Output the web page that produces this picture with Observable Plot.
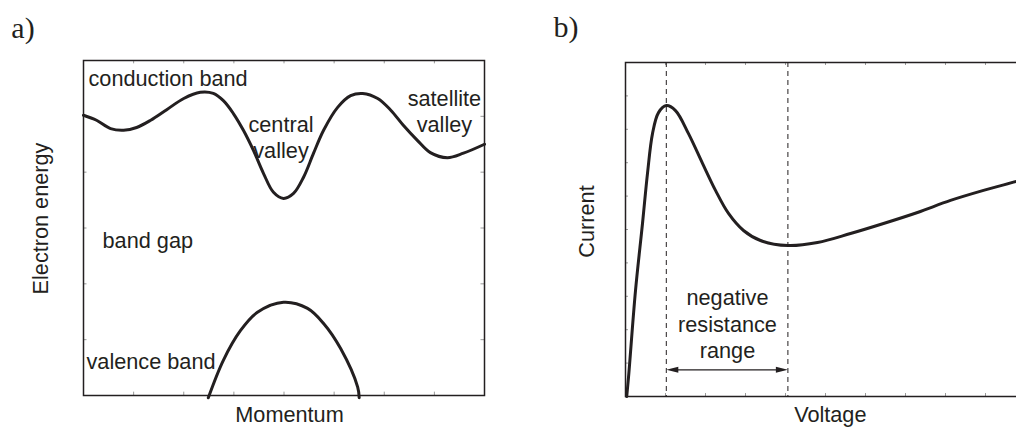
<!DOCTYPE html>
<html>
<head>
<meta charset="utf-8">
<script src="https://cdn.jsdelivr.net/npm/d3@7"></script>
<script src="https://cdn.jsdelivr.net/npm/@observablehq/plot@0.6"></script>
<style>
  html, body { margin: 0; padding: 0; overflow: hidden; background: #fff; }
  #page { position: relative; width: 1016px; height: 427px; overflow: hidden; }
  #panel-a { position: absolute; left: 0; top: 0; width: 500px; }
  #panel-b { position: absolute; left: 500px; top: 0; width: 530px; }
  svg { display: block; max-width: none !important; }
</style>
</head>
<body>
<div id="page"><div id="panel-a"></div><div id="panel-b"></div></div>
<script>
// ---- Panel a: band structure, [momentum, electron energy] ----
const conductionBand = [
  [0, 5.02], [0.26, 4.93], [0.54, 4.78], [0.80, 4.75], [1.06, 4.80], [1.34, 4.93],
  [1.66, 5.12], [2.00, 5.32], [2.33, 5.43], [2.59, 5.41], [2.79, 5.28], [2.99, 5.05],
  [3.19, 4.75], [3.39, 4.39], [3.59, 3.98], [3.79, 3.64], [3.99, 3.53], [4.19, 3.62],
  [4.39, 3.91], [4.59, 4.34], [4.79, 4.75], [5.07, 5.16], [5.33, 5.37], [5.57, 5.41],
  [5.87, 5.32], [6.13, 5.11], [6.38, 4.84], [6.66, 4.57], [6.92, 4.35], [7.26, 4.26],
  [7.58, 4.34], [8.0, 4.50]
];
const valenceBand = [
  [2.49, -0.04], [2.79, 0.63], [3.13, 1.16], [3.47, 1.49], [3.99, 1.67], [4.47, 1.56],
  [4.79, 1.29], [5.13, 0.84], [5.47, 0.15], [5.50, -0.04]
];
const momentumTicks = [1, 2, 3, 4, 5, 6, 7];
const energyTicks = [1, 2, 3, 4, 5];

// ---- Panel b: current-voltage characteristic, [voltage, current] ----
const ivCurve = [
  [0.03, 0], [0.075, 0.57], [0.25, 3.17], [0.425, 5.18], [0.55, 6.68], [0.675, 7.87],
  [0.825, 8.50], [1.02, 8.71], [1.25, 8.56], [1.575, 7.87], [1.925, 6.98], [2.25, 6.17],
  [2.575, 5.48], [2.95, 4.97], [3.375, 4.67], [4.06, 4.52], [4.8, 4.61], [5.625, 4.88],
  [6.45, 5.18], [7.3, 5.51], [8.125, 5.87], [8.95, 6.17], [9.775, 6.44], [10, 6.52]
];
const resistanceBounds = [1.02, 4.06];   // peak and valley voltages
const voltageTicks = [1, 2, 3, 4, 5, 6, 7, 8, 9];
const currentTicks = [1, 2, 3, 4, 5, 6, 7, 8, 9];

const ink = "#231f20";
const tickGray = "#9a9a9a";
const sans = "'Liberation Sans', Arial, sans-serif";
const serif = "'Liberation Serif', 'Times New Roman', serif";
const fs = 21.7;

// filled arrowhead with its tip at the origin, pointing right
const arrowHead = {
  draw(context) {
    context.moveTo(0, 0);
    context.lineTo(-12, -3);
    context.lineTo(-12, 3);
    context.closePath();
  }
};

const label = (txt, opts) => Plot.text([txt], {
  text: d => d, fill: ink, fontFamily: sans, fontSize: fs, lineAnchor: "bottom", ...opts
});

const plotA = Plot.plot({
  width: 500, height: 427,
  marginLeft: 83, marginRight: 16, marginTop: 60, marginBottom: 32,
  x: {domain: [0, 8], axis: null},
  y: {domain: [0, 6], axis: null},
  marks: [
    Plot.ruleX(momentumTicks, {x: d => d, y1: 0, y2: 0.06, stroke: tickGray}),
    Plot.ruleX(momentumTicks, {x: d => d, y1: 5.94, y2: 6, stroke: tickGray}),
    Plot.ruleY(energyTicks, {y: d => d, x1: 0, x2: 0.07, stroke: tickGray}),
    Plot.ruleY(energyTicks, {y: d => d, x1: 7.93, x2: 8, stroke: tickGray}),
    Plot.frame({stroke: ink, strokeWidth: 1.5}),
    Plot.line(conductionBand, {x: d => d[0], y: d => d[1], curve: "catmull-rom", stroke: ink, strokeWidth: 3}),
    Plot.line(valenceBand, {x: d => d[0], y: d => d[1], curve: "catmull-rom", stroke: ink, strokeWidth: 3}),
    label("conduction band", {x: 0.1, y: 5.55, textAnchor: "start"}),
    label("central\nvalley", {x: 3.94, y: 4.26, textAnchor: "middle", lineHeight: 1.19}),
    label("satellite\nvalley", {x: 7.2, y: 4.72, textAnchor: "middle", lineHeight: 1.19}),
    label("band gap", {x: 0.38, y: 2.65, textAnchor: "start"}),
    label("valence band", {x: 0.06, y: 0.47, textAnchor: "start"}),
    label("Electron energy", {x: -0.7, y: 3.17, rotate: -90, textAnchor: "middle"}),
    label("Momentum", {x: 4.11, y: -0.48, textAnchor: "middle"}),
    label("a)", {x: -1.44, y: 6.41, textAnchor: "start", fontFamily: serif, fontSize: 30})
  ]
});

const plotB = Plot.plot({
  width: 530, height: 427,
  marginLeft: 125, marginRight: 5, marginTop: 62, marginBottom: 31,
  x: {domain: [0, 10], axis: null},
  y: {domain: [0, 10], axis: null},
  marks: [
    Plot.ruleX(voltageTicks, {x: d => d, y1: 0, y2: 0.09, stroke: tickGray}),
    Plot.ruleX(voltageTicks, {x: d => d, y1: 9.91, y2: 10, stroke: tickGray}),
    Plot.ruleY(currentTicks, {y: d => d, x1: 0, x2: 0.075, stroke: tickGray}),
    Plot.frame({stroke: ink, strokeWidth: 1.5}),
    Plot.ruleX(resistanceBounds, {x: d => d, stroke: ink, strokeWidth: 1, strokeDasharray: "5,4"}),
    Plot.line(ivCurve, {x: d => d[0], y: d => d[1], curve: "catmull-rom", stroke: ink, strokeWidth: 3}),
    Plot.ruleY([0.8], {y: d => d, x1: resistanceBounds[0] + 0.2, x2: resistanceBounds[1] - 0.2, stroke: ink, strokeWidth: 1.2}),
    Plot.dot(resistanceBounds, {x: d => d, y: 0.8, symbol: arrowHead, rotate: (d, i) => (i === 0 ? 180 : 0), fill: ink, stroke: "none"}),
    label("negative\nresistance\nrange", {x: 2.55, y: 1.16, textAnchor: "middle", lineHeight: 1.207}),
    label("Current", {x: -0.8, y: 5.24, rotate: -90, textAnchor: "middle"}),
    label("Voltage", {x: 5.12, y: -0.75, textAnchor: "middle"}),
    label("b)", {x: -1.8, y: 10.77, textAnchor: "start", fontFamily: serif, fontSize: 30})
  ]
});

document.getElementById("panel-a").append(plotA);
document.getElementById("panel-b").append(plotB);
</script>
</body>
</html>
